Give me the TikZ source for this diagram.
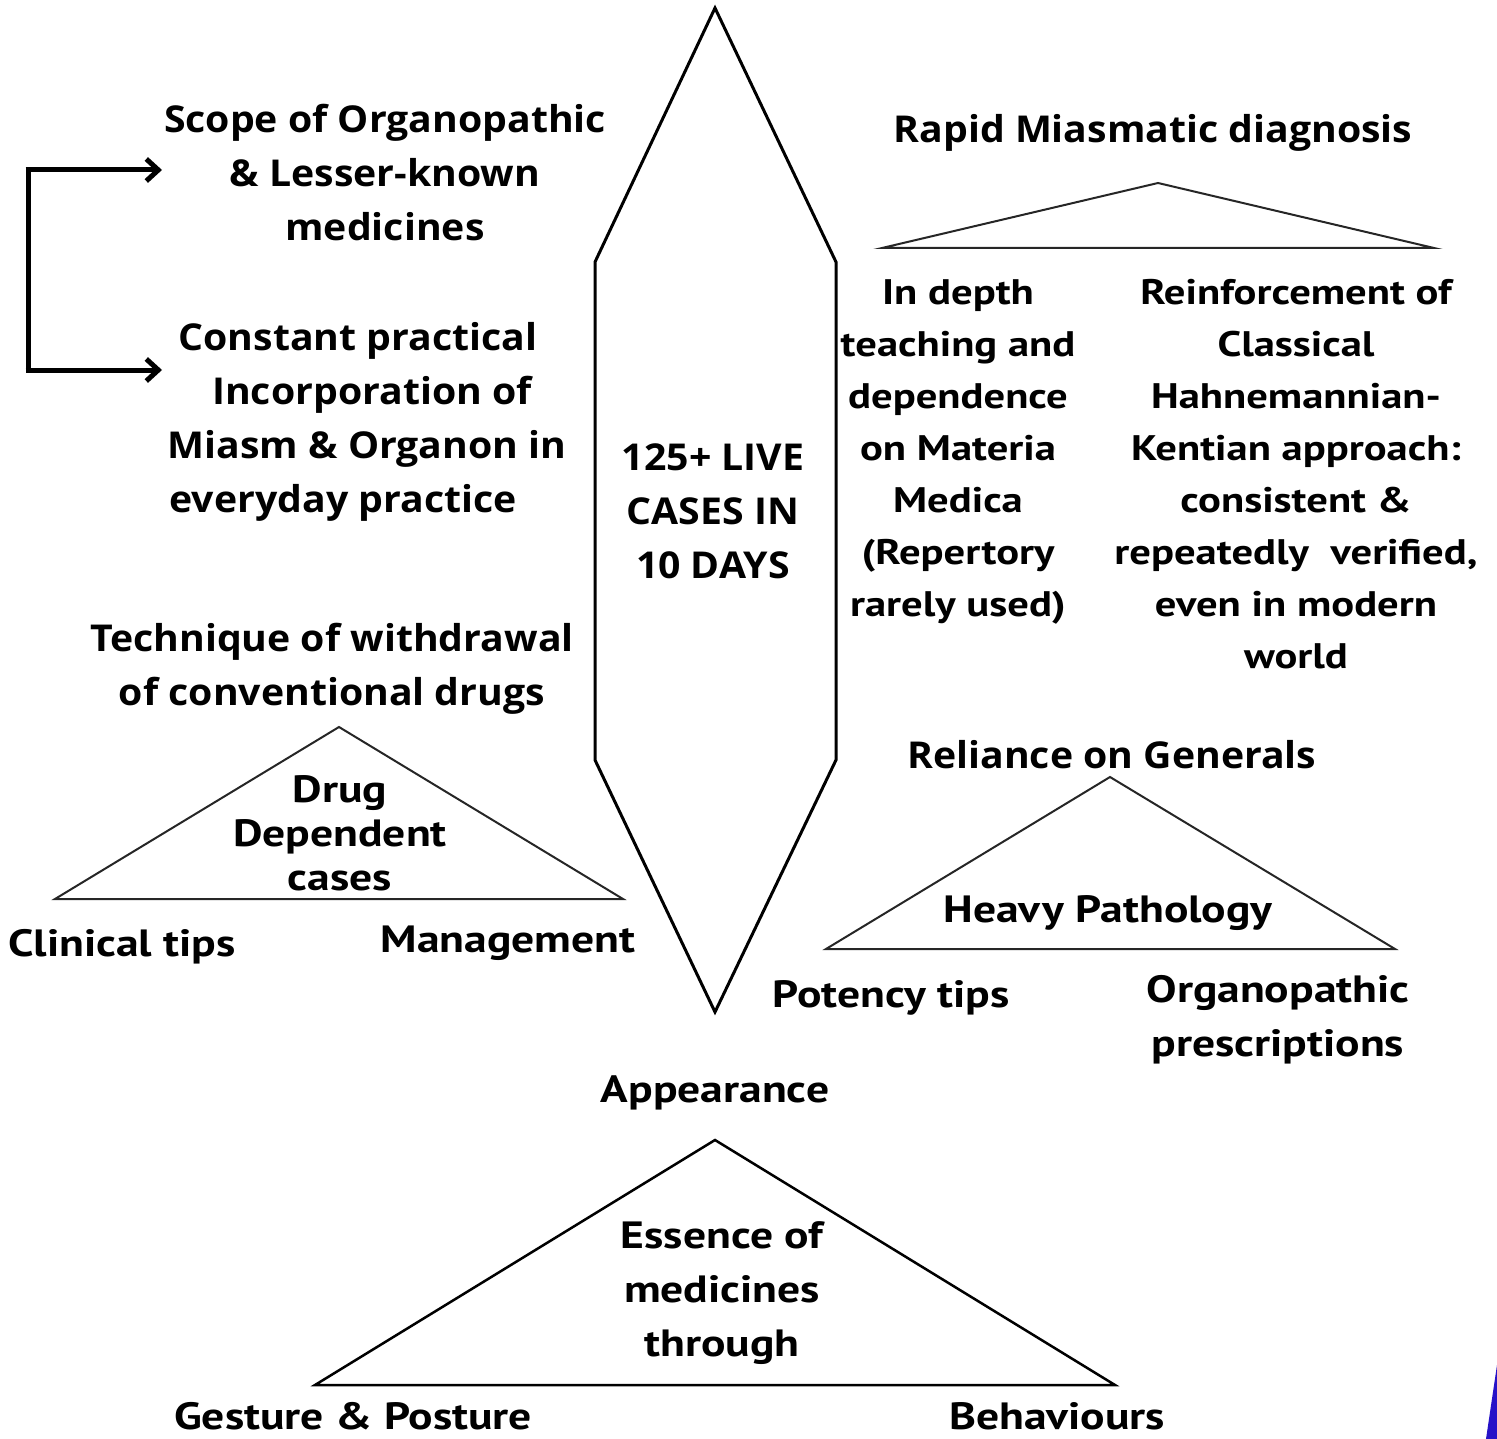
\documentclass[tikz,border=0pt]{standalone}
\usepackage{fontspec}
\setmainfont{Open Sans}[BoldFont={* Bold}, FakeStretch=1.06]
\newfontfamily\condf{PT Sans}[BoldFont={* Bold}, FakeStretch=1.2]
\usetikzlibrary{arrows.meta}
\definecolor{accent}{RGB}{38,18,200}
\tikzset{
  wide/.style={inner sep=0pt, align=center, font=\bfseries\fontsize{37}{54}\selectfont},
  cond/.style={inner sep=0pt, align=center, font=\condf\bfseries\fontsize{38}{54}\selectfont},
  colfont/.style={font=\condf\bfseries\fontsize{35.5}{52}\selectfont},
  outline/.style={draw=black, line width=3pt, line join=miter},
  tri/.style={draw=black!85, line width=2pt, line join=miter},
  bracket/.style={draw=black, line width=5pt, -{Straight Barb[length=12pt,width=22pt,line width=5pt]}}
}
\begin{document}
\begin{tikzpicture}[x=1pt,y=-1pt]
\useasboundingbox (0,0) rectangle (1497,1439);
\clip (0,0) rectangle (1497,1439);

% central hexagon
\draw[outline] (715,8) -- (836,262) -- (836,760) -- (715,1012) -- (595,760) -- (595,262) -- cycle;
\node[wide] (center) at (713,511) {125+ LIVE\\CASES IN\\10 DAYS};

% left top
\node[wide] (scope) at (385,173) {Scope of Organopathic\\\& Lesser-known\\medicines};
\node[wide] (constant) at (360,422) {Constant practical\hspace*{4pt}\\\hspace*{24pt}Incorporation of\\\hspace*{14pt}Miasm \& Organon in\\everyday practice\hspace*{34pt}};
\coordinate (b1) at (28,170);
\coordinate (b2) at (28,370);
\coordinate (t1) at (162,170);
\coordinate (t2) at (162,370);
\draw[draw=black, line width=5pt] (b1) -- (b2);
\draw[bracket] ([xshift=-2.5pt]b1) -- (t1);
\draw[bracket] ([xshift=-2.5pt]b2) -- (t2);

% left middle
\node[wide] (tech) at (332,669) {Technique of withdrawal\\of conventional drugs};
\draw[tri] (339,727) -- (623,899) -- (55,899) -- cycle;
\node[cond, font=\condf\bfseries\fontsize{38}{44}\selectfont] (drug) at (340,833) {Drug\\Dependent\\cases};
\node[cond] (clin) at (122,947) {Clinical tips};
\node[cond] (mgmt) at (508,943) {Management};

% right top
\node[wide] (rapid) at (1153,133) {Rapid Miasmatic diagnosis};
\draw[tri] (1158,183) -- (1434,248) -- (882,248) -- cycle;
\node[cond, colfont] (depth) at (958,452) {In depth\\teaching and\\dependence\\on Materia\\Medica\\(Repertory\\rarely used)};
\node[cond, colfont] (reinf) at (1296,474) {Reinforcement of\\Classical\\Hahnemannian-\\Kentian approach:\\consistent \&\\repeatedly\ \ verified,\\even in modern\\world};

% right middle
\node[wide] (rel) at (1112,755) {Reliance on Generals};
\draw[tri] (1110,777) -- (1395,949) -- (826,949) -- cycle;
\node[cond] (heavy) at (1108,913) {Heavy Pathology};
\node[cond] (pot) at (891,998) {Potency tips};
\node[cond] (organo) at (1278,1020) {Organopathic\\prescriptions};

% bottom
\node[cond] (app) at (715,1093) {Appearance};
\draw[outline, line width=2.5pt] (715,1140) -- (1115,1385) -- (315,1385) -- cycle;
\node[cond] (ess) at (722,1293) {Essence of\\medicines\\through};
\node[cond, anchor=base] (gest) at (353,1429) {Gesture \& Posture};
\node[cond, anchor=base] (beh) at (1057,1429) {Behaviours};

% corner accent
\fill[accent] (1497,1365) -- (1497,1439) -- (1486,1439) -- cycle;
\end{tikzpicture}
\end{document}
